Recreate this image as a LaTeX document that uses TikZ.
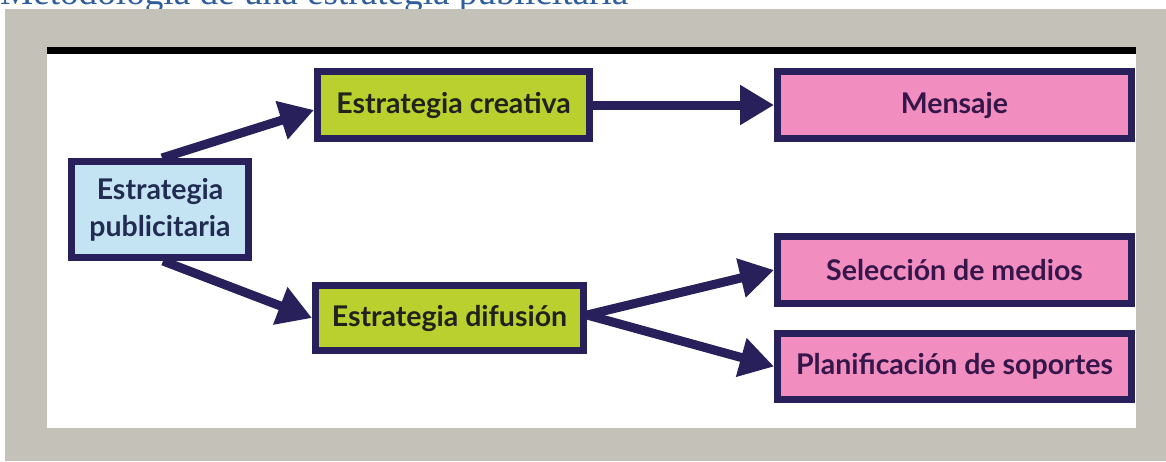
\documentclass[tikz,border=0pt]{standalone}
\usepackage{fontspec}
\setmainfont{Lato}
\newfontfamily\titlefont{Liberation Serif}
\usetikzlibrary{arrows.meta,calc}
\definecolor{framegray}{HTML}{C4C1B9}
\definecolor{navy}{HTML}{28205A}
\definecolor{lblue}{HTML}{C5E4F3}
\definecolor{lgreen}{HTML}{B9D02E}
\definecolor{lpink}{HTML}{F28DC0}
\definecolor{ttlblue}{HTML}{2F5E9E}
\definecolor{txtgreen}{HTML}{22221C}
\definecolor{txtpink}{HTML}{35164A}
\definecolor{txtblue}{HTML}{222C52}
\begin{document}
\begin{tikzpicture}[x=1pt,y=-1pt,
  box/.style={draw=navy,line width=7pt,inner sep=0pt,align=center,
    font=\fontsize{28.5}{37}\selectfont\bfseries},
  bluebox/.style={box,fill=lblue,text=txtblue},
  greenbox/.style={box,fill=lgreen,text=txtgreen},
  pinkbox/.style={box,fill=lpink,text=txtpink},
  conn/.style={draw=navy,line width=9pt,-{Triangle[length=34pt,width=38pt]}}]
\useasboundingbox (0,0) rectangle (1166,461);
\clip (0,0) rectangle (1166,461);
\fill[white] (0,0) rectangle (1166,461);
\node[anchor=base west,inner sep=0pt,text=ttlblue] (title) at (0,4)
  {\resizebox{628pt}{!}{\titlefont Metodología de una estrategia publicitaria}};
\fill[framegray] (5,9) rectangle (1166,461);
\fill[white] (47,47) rectangle (1136,428);
\fill[black] (47,47) rectangle (1136,54);

\node[bluebox,minimum width=177pt,minimum height=96pt] (pub) at (160,209.5) {Estrategia\\publicitaria};
\node[greenbox,minimum width=272pt,minimum height=67pt] (cre) at (453.5,105) {Estrategia creativa};
\node[greenbox,minimum width=268pt,minimum height=65pt] (dif) at (449.5,318) {Estrategia difusión};
\node[pinkbox,minimum width=354pt,minimum height=67pt] (men) at (954.5,105) {Mensaje};
\node[pinkbox,minimum width=354pt,minimum height=67pt] (sel) at (954.5,270) {Selección de medios};
\node[pinkbox,minimum width=354pt,minimum height=66pt] (pla) at (954.5,366.5) {Planificación de soportes};

\draw[conn] ($(pub.north)+(2,0)$) -- ($(cre.west)+(0,5)$);
\draw[conn] ($(pub.south)+(3,0)$) -- (dif.west);
\draw[conn] (cre.east) -- (men.west);
\draw[conn] ($(dif.east)+(0,-3)$) -- (sel.west);
\draw[conn] ($(dif.east)+(0,-3)$) -- (pla.west);
\end{tikzpicture}
\end{document}
